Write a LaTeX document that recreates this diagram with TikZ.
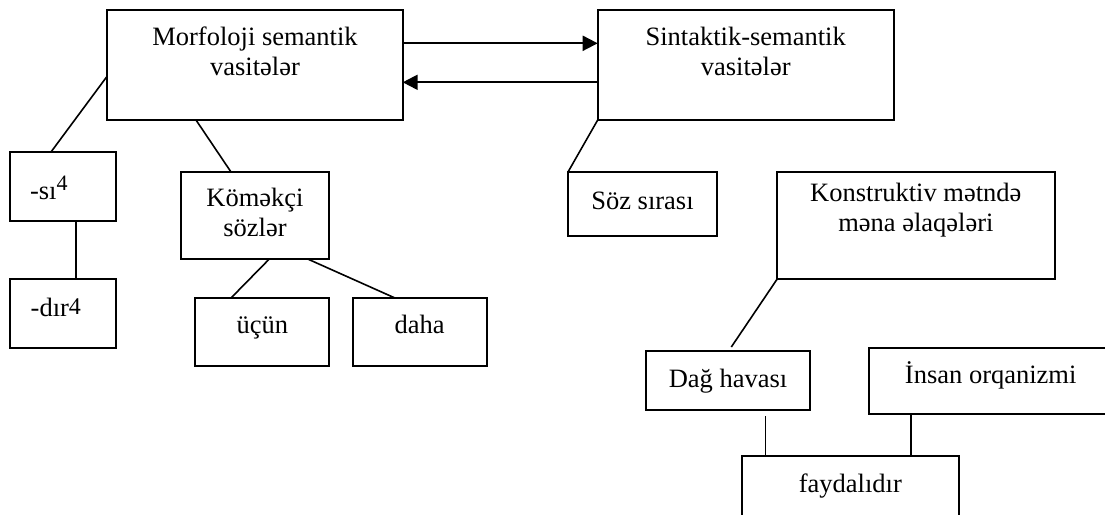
\documentclass[tikz,border=0pt]{standalone}
\usepackage{fontspec}
\setmainfont{Liberation Serif}
\usetikzlibrary{arrows.meta}
\newcommand{\bxt}[4]{\parbox[c][#2][t]{#1}{\vspace*{#3}\centering\strut #4\par}}
\newcommand{\bxl}[4]{\parbox[c][#2][t]{#1}{\vspace*{#3}\raggedright\strut #4\par}}
\begin{document}
\begin{tikzpicture}[x=1pt,y=-1pt,
  box/.style={draw, line width=1.8pt, inner sep=0pt, outer sep=0pt, anchor=north west,
              font=\fontsize{26.5pt}{30pt}\selectfont},
  link/.style={line width=1.6pt},
  arr/.style={line width=2pt, -{Triangle[length=15pt,width=15pt]}}]
\useasboundingbox (0,0) rectangle (1105,514);
\node[box] (m)   at (107.3,10)    {\bxt{295.4pt}{110pt}{14.7pt}{Morfoloji semantik\\vasitələr}};
\node[box] (s)   at (597.7,10)    {\bxt{296pt}{110pt}{14.7pt}{Sintaktik-semantik\\vasitələr}};
\node[box] (si)  at (10,152)      {\bxl{105.7pt}{69pt}{24pt}{\hspace*{20pt}-sı\raisebox{9pt}{\fontsize{22pt}{22pt}\selectfont 4}}};
\node[box] (dir) at (10,279.3)    {\bxl{105.7pt}{68.4pt}{16pt}{\hspace*{20.7pt}-dır\raisebox{2pt}{\fontsize{24pt}{24pt}\selectfont 4}}};
\node[box] (k)   at (180.7,172)   {\bxt{148.6pt}{87pt}{13.7pt}{Köməkçi\\sözlər}};
\node[box] (u)   at (195.3,297.7) {\bxt{134pt}{68.3pt}{14.3pt}{üçün}};
\node[box] (d)   at (352.7,297.7) {\bxt{134pt}{68.3pt}{14.3pt}{daha}};
\node[box] (soz) at (568,172)     {\bxt{149pt}{64pt}{16pt}{Söz sırası}};
\node[box] (kon) at (777,172)     {\bxt{277.7pt}{107.3pt}{8pt}{Konstruktiv mətndə\\məna əlaqələri}};
\node[box] (dag) at (646.3,351.3) {\bxt{163.4pt}{59pt}{14.7pt}{Dağ havası}};
\node[box] (ins) at (868.7,347.7) {\bxt{244pt}{66.6pt}{14.3pt}{İnsan orqanizmi}};
\node[box] (f)   at (742,456.3)   {\bxt{216.7pt}{60pt}{15pt}{faydalıdır}};
% arrows
\draw[arr] (m.east |- 0,43.3) -- (s.west |- 0,43.3);
\draw[arr] (s.west |- 0,82.3) -- (m.east |- 0,82.3);
% connectors
\draw[link] (m.west |- 0,76) -- (si.north -| 51,0);
\draw[link] (m.south -| 196,0) -- (k.north -| 231,0);
\draw[link] (si.south -| 75.7,0) -- (dir.north -| 75.7,0);
\draw[link] (k.south -| 269.3,0) -- (u.north -| 231.3,0);
\draw[link] (k.south -| 307.7,0) -- (d.north -| 394.3,0);
\draw[link] (s.south west) -- (soz.north west);
\draw[link, shorten >=5.2pt] (kon.south west) -- (dag.north -| 728.4,0);
\draw[link, shorten <=6pt] (dag.south -| 765.3,0) -- (f.north -| 765.3,0);
\draw[link] (ins.south -| 910.7,0) -- (f.north -| 910.7,0);
\end{tikzpicture}
\end{document}
